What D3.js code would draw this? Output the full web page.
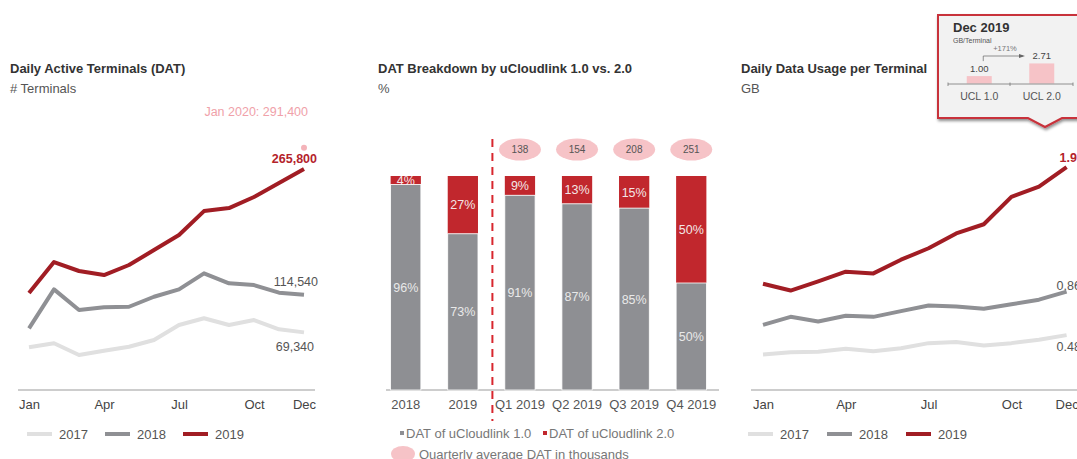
<!DOCTYPE html>
<html>
<head>
<meta charset="utf-8">
<script src="https://cdn.jsdelivr.net/npm/d3@7"></script>
<style>
  html, body { margin: 0; padding: 0; background: #fff; overflow: hidden; }
  svg { display: block; font-family: "Liberation Sans", Arial, Helvetica, sans-serif; }
</style>
</head>
<body>
<svg id="chart" width="1077" height="459"></svg>
<script>
// ---------------- DATA ----------------
const months = ["Jan","Feb","Mar","Apr","May","Jun","Jul","Aug","Sep","Oct","Nov","Dec"];
const monthTicks = ["Jan","Apr","Jul","Oct","Dec"];
const years = ["2017","2018","2019"];

// Daily active terminals
const dat2017 = [51400, 56200, 42100, 47300, 52100, 60200, 78200, 86300, 78200, 84200, 73000, 69340];
const dat2018 = [74200, 121100, 96200, 99500, 100200, 112200, 121100, 140400, 128400, 126300, 117100, 114540];
const dat2019 = [116700, 154000, 143200, 138300, 150400, 168400, 186500, 215300, 218900, 232200, 249000, 265800];
const datJan2020 = 291400;

// DAT breakdown (%)
const breakdownCats = ["2018","2019","Q1 2019","Q2 2019","Q3 2019","Q4 2019"];
const ucl1Share = [96, 73, 91, 87, 85, 50];
const ucl2Share = [4, 27, 9, 13, 15, 50];
const quarterCats = ["Q1 2019","Q2 2019","Q3 2019","Q4 2019"];
const quarterlyAvgDAT = [138, 154, 208, 251];

// Daily data usage per terminal (GB)
const usage2017 = [0.31, 0.33, 0.335, 0.36, 0.34, 0.365, 0.41, 0.42, 0.39, 0.41, 0.44, 0.48];
const usage2018 = [0.57, 0.64, 0.60, 0.65, 0.64, 0.69, 0.74, 0.73, 0.71, 0.75, 0.79, 0.86];
const usage2019 = [0.93, 0.87, 0.95, 1.035, 1.02, 1.14, 1.24, 1.37, 1.45, 1.69, 1.78, 1.95];

// Callout Dec 2019
const calloutCats = ["UCL 1.0", "UCL 2.0"];
const calloutValues = [1.00, 2.71];
const calloutGrowth = "+171%";

// ---------------- STYLE ----------------
const lineColors = {"2017": "#e0e0e0", "2018": "#8f9094", "2019": "#a11d24"};
const grey = "#8e8f93", red = "#c1272d", pink = "#f6c3c7";
const FS = 13;

const svg = d3.select("#chart");
svg.append("rect").attr("width", 1077).attr("height", 459).attr("fill", "#fff");

const defs = svg.append("defs");
const f = defs.append("filter").attr("id", "shadow").attr("x", "-20%").attr("y", "-20%").attr("width", "140%").attr("height", "150%");
f.append("feDropShadow").attr("dx", 1).attr("dy", 2).attr("stdDeviation", 1.6).attr("flood-color", "#000").attr("flood-opacity", 0.45);

function title(x, t1, t2) {
  svg.append("text").attr("x", x).attr("y", 72.5).attr("font-size", FS).attr("font-weight", "bold").attr("fill", "#333").text(t1);
  svg.append("text").attr("x", x).attr("y", 92.5).attr("font-size", FS).attr("fill", "#555").text(t2);
}

function lineLegend(xs) {
  const g = svg.append("g");
  years.forEach((yr, i) => {
    g.append("line").attr("x1", xs[i]).attr("x2", xs[i] + 25).attr("y1", 434).attr("y2", 434)
      .attr("stroke", lineColors[yr]).attr("stroke-width", 4);
    g.append("text").attr("x", xs[i] + 32).attr("y", 438.5).attr("font-size", FS).attr("fill", "#555").text(yr);
  });
}

function lineChart(opts) {
  const {x, y, series, axisX1, axisX2} = opts;
  svg.append("line").attr("x1", axisX1).attr("x2", axisX2).attr("y1", 390).attr("y2", 390)
    .attr("stroke", "#bdbdbd").attr("stroke-width", 1.5);
  const ax = svg.append("g").attr("transform", "translate(0,390)")
    .call(d3.axisBottom(x).tickValues(monthTicks).tickSize(0).tickPadding(10));
  ax.select(".domain").remove();
  ax.selectAll("text").attr("font-size", FS).attr("fill", "#444").attr("font-family", "Liberation Sans, Arial, sans-serif");
  const line = d3.line().x((d, i) => x(months[i])).y(d => y(d));
  series.forEach((s, k) => {
    svg.append("path").datum(s).attr("d", line).attr("fill", "none")
      .attr("stroke", lineColors[years[k]]).attr("stroke-width", 4)
      .attr("stroke-linejoin", "round").attr("stroke-linecap", "butt");
  });
}

// ---------------- LEFT: DAT ----------------
title(10, "Daily Active Terminals (DAT)", "# Terminals");
const xL = d3.scalePoint().domain(months).range([29, 304]);
const yL = d3.scaleLinear().domain([0, 300000]).range([390, 140.7]);
lineChart({x: xL, y: yL, series: [dat2017, dat2018, dat2019], axisX1: 18, axisX2: 315});
const fmt = d3.format(",");
const dec = months[11];
svg.append("text").attr("x", xL(dec) + 13).attr("y", yL(dat2019[11]) - 6).attr("text-anchor", "end")
  .attr("font-size", 12.5).attr("font-weight", "bold").attr("fill", "#b4232b").text(fmt(dat2019[11]));
svg.append("text").attr("x", xL(dec) + 14).attr("y", yL(dat2018[11]) - 9).attr("text-anchor", "end")
  .attr("font-size", 12.5).attr("fill", "#555").text(fmt(dat2018[11]));
svg.append("text").attr("x", xL(dec) + 10).attr("y", yL(dat2017[11]) + 19).attr("text-anchor", "end")
  .attr("font-size", 12.5).attr("fill", "#555").text(fmt(dat2017[11]));
svg.append("circle").attr("cx", xL(dec)).attr("cy", yL(datJan2020)).attr("r", 3).attr("fill", "#f4b3b9");
svg.append("text").attr("x", xL(dec) + 4).attr("y", yL(datJan2020) - 32).attr("text-anchor", "end")
  .attr("font-size", 12.5).attr("fill", "#f0a1a9").text("Jan 2020: " + fmt(datJan2020));
lineLegend([27, 105, 183]);

// ---------------- MIDDLE: Breakdown ----------------
title(378, "DAT Breakdown by uCloudlink 1.0 vs. 2.0", "%");
const xM = d3.scaleBand().domain(breakdownCats).range([377.2, 719.8]).paddingInner(0.47).paddingOuter(0.235);
const yM = d3.scaleLinear().domain([0, 100]).range([390, 176]);
svg.append("line").attr("x1", 386).attr("x2", 719).attr("y1", 390).attr("y2", 390)
  .attr("stroke", "#bdbdbd").attr("stroke-width", 1.5);
const barData = breakdownCats.map((c, i) => ({c, a: ucl1Share[i], b: ucl2Share[i]}));
const bars = svg.append("g").selectAll("g").data(barData).join("g");
bars.append("rect").attr("x", d => xM(d.c)).attr("width", xM.bandwidth())
  .attr("y", d => yM(d.a + d.b)).attr("height", d => yM(d.a) - yM(d.a + d.b)).attr("fill", red);
bars.append("text").attr("x", d => xM(d.c) + xM.bandwidth() / 2).attr("y", d => (yM(d.a) + yM(d.a + d.b)) / 2 + 4.5)
  .attr("text-anchor", "middle").attr("font-size", 12.5).attr("fill", "#f3e6e6").text(d => d.b + "%");
bars.append("rect").attr("x", d => xM(d.c)).attr("width", xM.bandwidth())
  .attr("y", d => yM(d.a)).attr("height", d => yM(0) - yM(d.a)).attr("fill", grey)
  .attr("stroke", "#fff").attr("stroke-width", 0.8);
bars.append("text").attr("x", d => xM(d.c) + xM.bandwidth() / 2).attr("y", d => (yM(0) + yM(d.a)) / 2 + 4.5)
  .attr("text-anchor", "middle").attr("font-size", 12.5).attr("fill", "#e9e9e9").text(d => d.a + "%");
const axM = svg.append("g").attr("transform", "translate(0,390)").call(d3.axisBottom(xM).tickSize(0).tickPadding(10));
axM.select(".domain").remove();
axM.selectAll("text").attr("font-size", FS).attr("fill", "#555").attr("font-family", "Liberation Sans, Arial, sans-serif");
// divider
const divX = (xM("2019") + xM.bandwidth() + xM("Q1 2019")) / 2 + 1;
svg.append("line").attr("x1", divX).attr("x2", divX).attr("y1", 139).attr("y2", 421)
  .attr("stroke", "#d8262e").attr("stroke-width", 2).attr("stroke-dasharray", "8,6");
// quarterly ellipses
const qg = svg.append("g").selectAll("g").data(quarterCats.map((c, i) => ({c, v: quarterlyAvgDAT[i]}))).join("g");
qg.append("ellipse").attr("cx", d => xM(d.c) + xM.bandwidth() / 2).attr("cy", 149.5).attr("rx", 21).attr("ry", 11).attr("fill", pink);
qg.append("text").attr("x", d => xM(d.c) + xM.bandwidth() / 2).attr("y", 153).attr("text-anchor", "middle")
  .attr("font-size", 10).attr("fill", "#555").text(d => d.v);
// legend
const lg = svg.append("g");
lg.append("rect").attr("x", 400).attr("y", 431).attr("width", 4).attr("height", 4).attr("fill", grey);
lg.append("text").attr("x", 406).attr("y", 438).attr("font-size", FS).attr("fill", "#777").text("DAT of uCloudlink 1.0");
lg.append("rect").attr("x", 543).attr("y", 431).attr("width", 4).attr("height", 4).attr("fill", red);
lg.append("text").attr("x", 549).attr("y", 438).attr("font-size", FS).attr("fill", "#777").text("DAT of uCloudlink 2.0");
lg.append("ellipse").attr("cx", 403).attr("cy", 454).attr("rx", 12).attr("ry", 8).attr("fill", pink);
lg.append("text").attr("x", 419).attr("y", 458.5).attr("font-size", FS).attr("fill", "#777").text("Quarterly average DAT in thousands");

// ---------------- RIGHT: Usage ----------------
title(741, "Daily Data Usage per Terminal", "GB");
const xR = d3.scalePoint().domain(months).range([763, 1066.6]);
const yR = d3.scaleLinear().domain([0, 2]).range([390, 161.4]);
lineChart({x: xR, y: yR, series: [usage2017, usage2018, usage2019], axisX1: 751, axisX2: 1090});
svg.append("text").attr("x", xR(dec) - 7).attr("y", yR(usage2019[11]) - 5).attr("font-size", 12.5)
  .attr("font-weight", "bold").attr("fill", "#b4232b").text(d3.format(".2f")(usage2019[11]));
svg.append("text").attr("x", xR(dec) - 10).attr("y", yR(usage2018[11]) - 2).attr("font-size", 12.5)
  .attr("fill", "#555").text(d3.format(".2f")(usage2018[11]));
svg.append("text").attr("x", xR(dec) - 10).attr("y", yR(usage2017[11]) + 15.5).attr("font-size", 12.5)
  .attr("fill", "#555").text(d3.format(".2f")(usage2017[11]));
lineLegend([748, 827, 906]);

// ---------------- Callout ----------------
const co = svg.append("g");
co.append("path").attr("d", "M938,15 H1095 V118 H1062 L1045,127 L1028,118 H938 Z")
  .attr("fill", "#f2f2f2").attr("stroke", "#c8323a").attr("stroke-width", 2).attr("filter", "url(#shadow)");
co.append("text").attr("x", 953).attr("y", 31.5).attr("font-size", 13).attr("font-weight", "bold").attr("fill", "#333").text("Dec 2019");
co.append("text").attr("x", 953).attr("y", 43).attr("font-size", 7).attr("fill", "#555").text("GB/Terminal");
const xC = d3.scaleBand().domain(calloutCats).range([948, 1073]).paddingInner(0.6).paddingOuter(0.3);
const yC = d3.scaleLinear().domain([0, 3]).range([83.5, 61.3]);
co.selectAll("rect.cb").data(calloutCats).join("rect").attr("class", "cb")
  .attr("x", d => xC(d)).attr("width", xC.bandwidth())
  .attr("y", (d, i) => yC(calloutValues[i])).attr("height", (d, i) => yC(0) - yC(calloutValues[i])).attr("fill", pink);
co.selectAll("text.cv").data(calloutCats).join("text").attr("class", "cv")
  .attr("x", d => xC(d) + xC.bandwidth() / 2).attr("y", (d, i) => yC(calloutValues[i]) - 4)
  .attr("text-anchor", "middle").attr("font-size", 9.5).attr("fill", "#444").text((d, i) => d3.format(".2f")(calloutValues[i]));
co.append("line").attr("x1", 948).attr("x2", 1073).attr("y1", 84).attr("y2", 84).attr("stroke", "#777").attr("stroke-width", 0.8);
[948, 1010, 1073].forEach(tx => co.append("line").attr("x1", tx).attr("x2", tx).attr("y1", 82.5).attr("y2", 86).attr("stroke", "#777").attr("stroke-width", 0.8));
co.selectAll("text.cc").data(calloutCats).join("text").attr("class", "cc")
  .attr("x", d => xC(d) + xC.bandwidth() / 2).attr("y", 100).attr("text-anchor", "middle")
  .attr("font-size", 10.5).attr("fill", "#555").text(d => d);
const ax1 = xC(calloutCats[0]) + xC.bandwidth() / 2 + 4;
co.append("path").attr("d", `M${ax1},${yC(calloutValues[0]) - 15} V56 H1023`).attr("fill", "none").attr("stroke", "#666").attr("stroke-width", 0.7);
co.append("path").attr("d", "M1019,54 L1025,56 L1019,58 Z").attr("fill", "#666");
co.append("text").attr("x", 1005).attr("y", 51).attr("text-anchor", "middle").attr("font-size", 7.5).attr("fill", "#777").text(calloutGrowth);
</script>
</body>
</html>
